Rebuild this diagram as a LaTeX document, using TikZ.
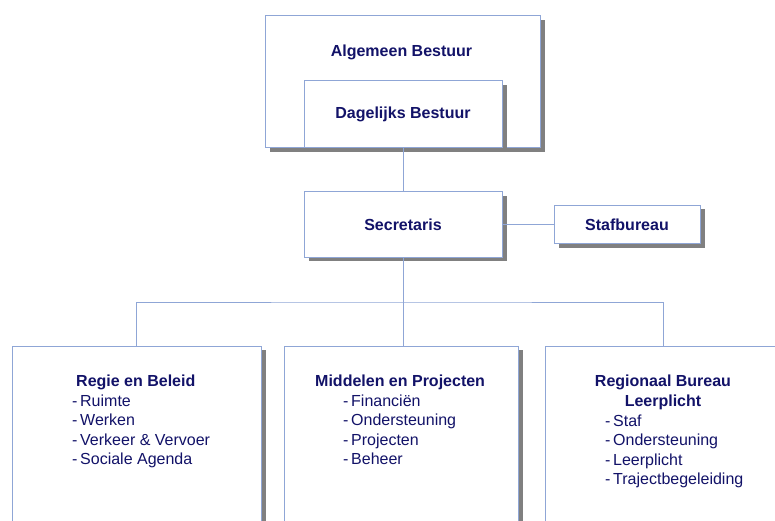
\documentclass[tikz,border=0pt]{standalone}
\usepackage{fontspec}
\setmainfont{Liberation Sans}
\usepackage{tikz}
\usetikzlibrary{shadows,positioning}
\definecolor{linkblue}{RGB}{143,166,214}
\definecolor{navytext}{RGB}{18,18,104}
\definecolor{shadowgray}{RGB}{128,128,128}
\tikzstyle{unit}=[rectangle,draw=linkblue,line width=1pt,fill=white,
  drop shadow={shadow xshift=4.5pt,shadow yshift=-4pt,fill=shadowgray,opacity=1},
  inner sep=0pt,text=navytext,font=\bfseries\fontsize{16}{19.5}\selectfont]
\tikzstyle{link}=[draw=linkblue,line width=1pt]
\tikzstyle{deptext}=[text=navytext,inner sep=0pt,align=left,
  font=\fontsize{16}{19.5}\selectfont]

\begin{document}
\begin{tikzpicture}[x=1pt,y=-1pt]
	\useasboundingbox (0,0) rectangle (775,521);
	\clip (0,0) rectangle (775,521);

	% bestuur
	\node[unit,minimum width=275pt,minimum height=132pt] (ab) at (402.5,82) {};
	\node[deptext,font=\bfseries\fontsize{16}{19.5}\selectfont,anchor=base] (ab-title) at (401.5,56.5) {Algemeen Bestuur};
	\node[unit,minimum width=198pt,minimum height=67pt] (db) at (403,114.5) {Dagelijks Bestuur};

	\node[unit,minimum width=198pt,minimum height=65pt] (secr) at (403,224.5) {Secretaris};
	\node[unit,minimum width=146pt,minimum height=38pt,right=51pt of secr] (staf) {Stafbureau};

	% afdelingen
	\node[unit,minimum width=249pt,minimum height=214pt] (rb) at (136.5,453) {};
	\node[unit,minimum width=234pt,minimum height=214pt] (mp) at (401.5,453) {};
	\node[unit,minimum width=236pt,minimum height=214pt] (rbl) at (663,453) {};

	\node[deptext,anchor=north west] (rb-text) at (72,375) {%
		\hspace*{4pt}\textbf{Regie en Beleid}\\
		-\,Ruimte\\
		-\,Werken\\
		-\,Verkeer \& Vervoer\\
		-\,Sociale Agenda};
	\node[deptext,anchor=north west] (mp-text) at (315,375) {%
		\textbf{Middelen en Projecten}\\
		\hspace*{28pt}-\,Financiën\\
		\hspace*{28pt}-\,Ondersteuning\\
		\hspace*{28pt}-\,Projecten\\
		\hspace*{28pt}-\,Beheer};
	\node[deptext,align=center,anchor=north,font=\bfseries\fontsize{16}{19.5}\selectfont] (rbl-title) at (663,375) {%
		Regionaal Bureau\\ Leerplicht};
	\node[deptext,anchor=north west] (rbl-text) at (605,414.5) {%
		-\,Staf\\
		-\,Ondersteuning\\
		-\,Leerplicht\\
		-\,Trajectbegeleiding};

	% lijnen
	\coordinate (bus) at (403,302);
	\draw[link] (db.south) -- (secr.north);
	\draw[link] (secr.east) -- (staf.west);
	\draw[link] (secr.south) -- (bus);
	\draw[link] (rb.north) |- (bus) -| (rbl.north);
	\draw[link] (bus) -- (bus |- mp.north);
\end{tikzpicture}
\end{document}
